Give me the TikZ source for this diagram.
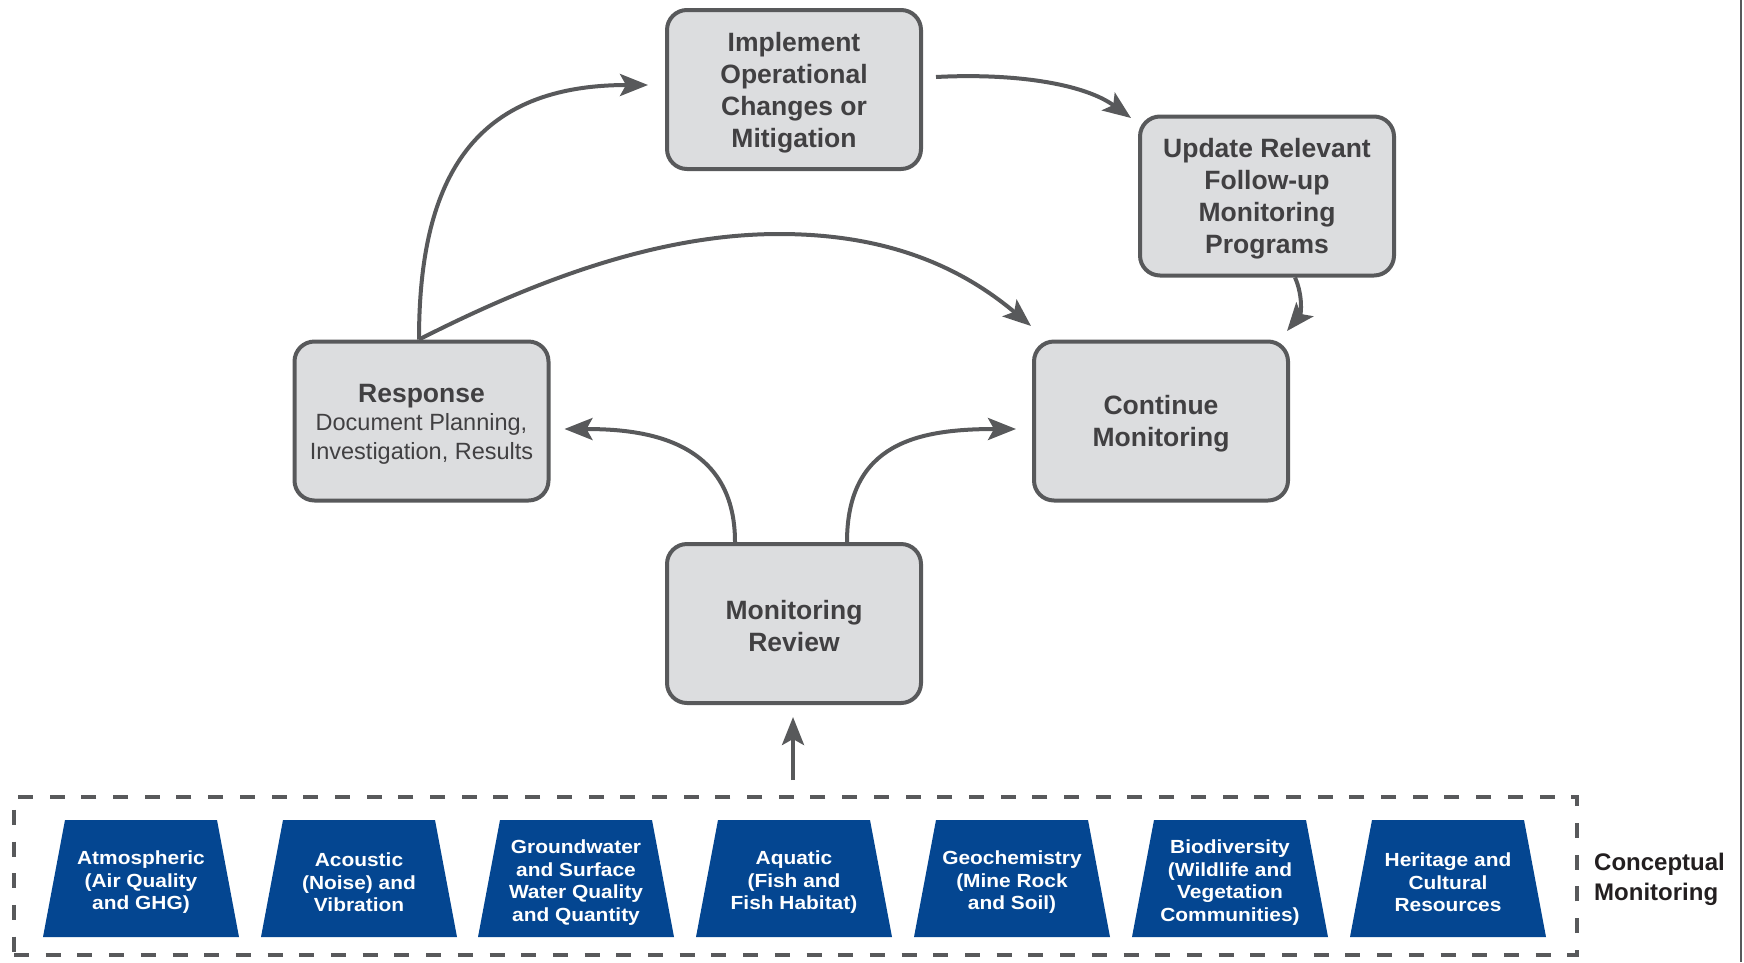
\documentclass[tikz,border=0pt]{standalone}
\usepackage{fontspec}
\setmainfont{Liberation Sans}
\newfontfamily\trapfont[FakeStretch=1.1]{Liberation Sans}
\usetikzlibrary{arrows.meta}
\definecolor{linegray}{HTML}{58595B}
\definecolor{boxfill}{HTML}{DCDDDF}
\definecolor{boxtext}{HTML}{414042}
\definecolor{trapblue}{HTML}{044691}
\definecolor{labelblack}{HTML}{231F20}
\newcommand\mytrap[3]{%
  \fill[trapblue] (#1-76,820) -- (#1+76,820) -- (#1+98,937) -- (#1-98,937) -- cycle;
  \node[traptext] (#2) at (#1,882.5) {#3};}
\begin{document}
\begin{tikzpicture}[x=1pt,y=-1pt,
  procbox/.style={draw=linegray, line width=4pt, fill=boxfill, rounded corners=20pt,
    minimum width=254pt, minimum height=159pt, inner sep=0pt},
  boxlabel/.style={align=center, text=boxtext, inner sep=0pt,
    font=\fontsize{26.5}{32}\selectfont\bfseries},
  arr/.style={draw=linegray, line width=4pt, -{Stealth[length=28pt,width=22pt,inset=6pt]}},
  traptext/.style={text=white, align=center, inner sep=0pt,
    font=\trapfont\fontsize{19}{22.5}\selectfont\bfseries},
  groupbox/.style={draw=linegray, line width=3.2pt, dash pattern=on 15pt off 16.7pt,
    minimum width=1563pt, minimum height=158pt, inner sep=0pt}
]
\useasboundingbox (0,0) rectangle (1744,962);
\draw[linegray, line width=2pt] (1740.5,0) -- (1740.5,962);

\node[procbox] (impl) at (794,89.5) {};
\node[procbox] (upd) at (1267,196) {};
\node[procbox] (resp) at (421.5,421) {};
\node[procbox] (cont) at (1161,421) {};
\node[procbox] (mr) at (794,623.5) {};

\node[boxlabel] (impl-t) at ([yshift=-3pt]impl.center) {Implement\\Operational\\Changes or\\Mitigation};
\node[boxlabel] (upd-t) at ([yshift=-3pt]upd.center) {Update Relevant\\Follow-up\\Monitoring\\Programs};
\node[boxlabel, font=\fontsize{23.5}{28.5}\selectfont] (resp-t) at ([yshift=-3pt]resp.center)
  {{\fontsize{26.5}{28.5}\selectfont\bfseries Response}\\Document Planning,\\Investigation, Results};
\node[boxlabel] (cont-t) at ([yshift=-2.5pt]cont.center) {Continue\\Monitoring};
\node[boxlabel] (mr-t) at ([yshift=-2.5pt]mr.center) {Monitoring\\Review};

\node[groupbox] (group) at (795.5,876) {};
\mytrap{141}{t1}{Atmospheric\\(Air Quality\\and GHG)}
\mytrap{359}{t2}{Acoustic\\(Noise) and\\Vibration}
\mytrap{576}{t3}{Groundwater\\and Surface\\Water Quality\\and Quantity}
\mytrap{794}{t4}{Aquatic\\(Fish and\\Fish Habitat)}
\mytrap{1012}{t5}{Geochemistry\\(Mine Rock\\and Soil)}
\mytrap{1230}{t6}{Biodiversity\\(Wildlife and\\Vegetation\\Communities)}
\mytrap{1448}{t7}{Heritage and\\Cultural\\Resources}
\node[anchor=west, align=left, inner sep=0pt, text=labelblack,
  font=\fontsize{24}{30}\selectfont\bfseries] (cm) at (1594,879) {Conceptual\\Monitoring};

\coordinate (peak) at (779,234);
\coordinate (src) at (793,780);

\draw[arr] ([xshift=-2.5pt]resp.north) .. controls +(0,-165) and +(-172,0) .. ([xshift=-17pt,yshift=4.5pt]impl.west);
\draw[arr] ([xshift=13pt,yshift=12.5pt]impl.east) .. controls +(76,-4) and +(-48,-35) .. ([xshift=-7pt,yshift=-3.5pt]upd.north west);
\draw[arr] ([xshift=28pt]upd.south) .. controls +(8,18) and +(14,-17) .. ([xshift=-3pt,yshift=8.5pt]cont.north east);
\draw[arr] ([xshift=-2.5pt]resp.north) .. controls +(117,-59.5) and +(-120,0) .. (peak)
  .. controls +(110,0) and +(-69,-58) .. ([xshift=-1pt,yshift=13.5pt]cont.north west);
\draw[arr] ([xshift=-59pt]mr.north) .. controls +(0,-104) and +(77,0) .. ([xshift=14pt,yshift=-8pt]resp.east);
\draw[arr] ([xshift=53pt]mr.north) .. controls +(0,-99) and +(-98,0) .. ([xshift=-16pt,yshift=-8pt]cont.west);
\draw[arr] (src) -- ([xshift=-1pt,yshift=-12pt]mr.south);
\end{tikzpicture}
\end{document}
